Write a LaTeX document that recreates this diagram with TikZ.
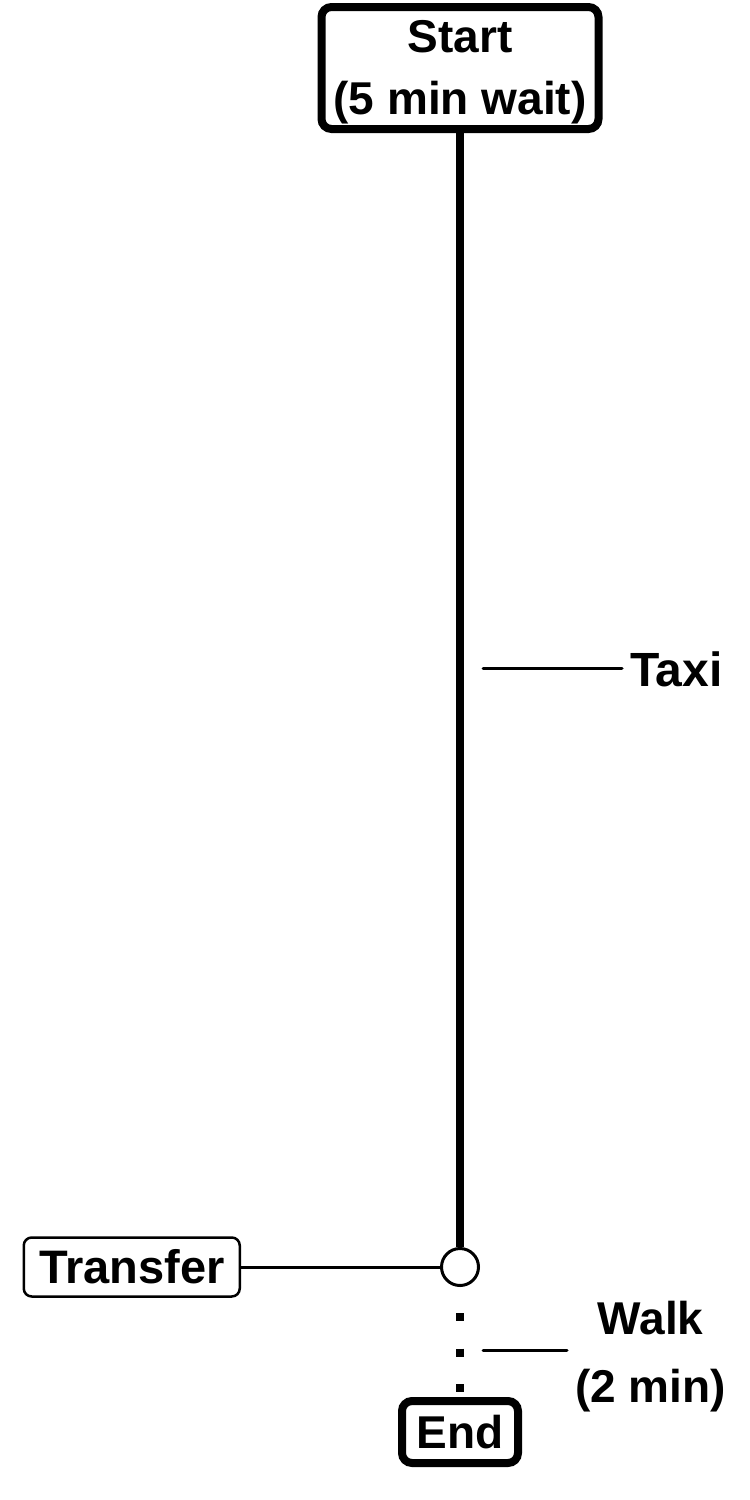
\documentclass[tikz,border=0pt]{standalone}
\usepackage{fontspec}
\setmainfont{Liberation Sans}
\usetikzlibrary{positioning}

\begin{document}
\begin{tikzpicture}[x=1pt, y=1pt,
        endpoint/.style={draw, line width=8pt, rounded corners=10pt, align=center, inner sep=0pt,
                font=\fontsize{46}{62}\selectfont\bfseries},
        stopmark/.style={draw, circle, line width=3pt, minimum size=37pt, inner sep=0pt},
        stoplabel/.style={draw, line width=2.5pt, rounded corners=8pt, minimum width=216pt,
                minimum height=59pt, inner sep=0pt, font=\fontsize{47}{62}\selectfont\bfseries},
        leglabel/.style={align=center, inner sep=8pt, font=\fontsize{46}{68}\selectfont\bfseries},
        ride/.style={line width=8pt},
        walkway/.style={line width=8pt, dash pattern=on 8pt off 27.5pt, dash phase=9.5pt},
        link/.style={line width=3pt},
        tick/.style={line width=3pt, line cap=round},
    ]

    \useasboundingbox (0,0) rectangle (750,-1500);

    \node[endpoint, minimum width=277pt, minimum height=122pt] (start) at (460,-68)
        {\rule{0pt}{41pt}Start\\(5 min wait)};
    \node[stopmark, below=1114pt of start] (xfer) {};
    \node[stoplabel, left=199pt of xfer] (transfer) {Transfer};
    \node[endpoint, minimum width=116pt, minimum height=62pt, below=110pt of xfer] (finish) {End};

    \coordinate (taxitick) at (483,-668);
    \coordinate (walktick) at (483,-1350);
    \node[leglabel, right=139pt of taxitick, yshift=-1pt, font=\fontsize{48}{68}\selectfont\bfseries] (taxi) {Taxi};
    \node[leglabel, right=84pt of walktick, yshift=-7pt] (walk) {Walk\\(2 min)};

    \draw[ride] (start.south) -- (xfer.north);
    \draw[walkway] (xfer.south) -- (finish.north);
    \draw[link] (transfer) -- (xfer);

    \draw[tick] (taxitick) -- (taxitick -| taxi.west);
    \draw[tick] (walktick) -- (walktick -| walk.west);

\end{tikzpicture}
\end{document}
